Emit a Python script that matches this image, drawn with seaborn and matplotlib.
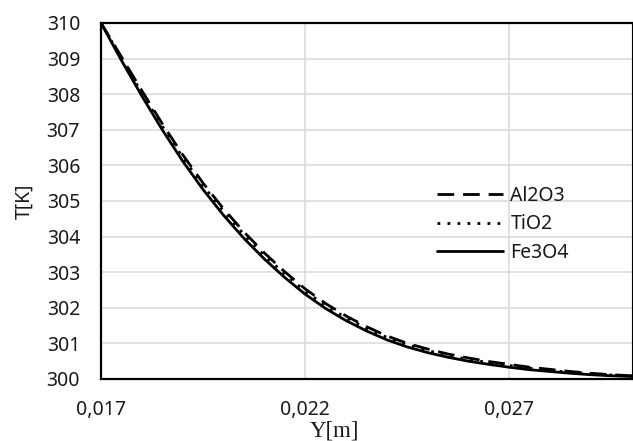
import matplotlib
matplotlib.use("Agg")
import matplotlib.pyplot as plt
import seaborn as sns
import pandas as pd
from matplotlib.ticker import FixedLocator

# ---- data ----
y_m = [0.0170, 0.0175, 0.0180, 0.0185, 0.0190, 0.0195, 0.0200, 0.0205, 0.0210,
       0.0215, 0.0220, 0.0225, 0.0230, 0.0235, 0.0240, 0.0245, 0.0250, 0.0255,
       0.0260, 0.0265, 0.0270, 0.0275, 0.0280, 0.0285, 0.0290, 0.0295, 0.0300]

t_al2o3 = [310.00, 309.05, 308.10, 307.17, 306.30, 305.50, 304.78, 304.13, 303.54,
           303.01, 302.53, 302.12, 301.77, 301.47, 301.21, 301.00, 300.84, 300.70,
           300.59, 300.49, 300.41, 300.33, 300.27, 300.21, 300.16, 300.12, 300.09]

t_tio2 = [310.00, 309.01, 308.04, 307.10, 306.23, 305.43, 304.71, 304.06, 303.47,
          302.95, 302.47, 302.06, 301.72, 301.42, 301.17, 300.96, 300.80, 300.66,
          300.55, 300.46, 300.38, 300.30, 300.24, 300.19, 300.14, 300.11, 300.08]

t_fe3o4 = [310.00, 308.95, 307.95, 307.00, 306.12, 305.32, 304.60, 303.95, 303.37,
           302.85, 302.38, 301.98, 301.64, 301.35, 301.10, 300.90, 300.74, 300.61,
           300.50, 300.41, 300.33, 300.26, 300.21, 300.16, 300.12, 300.09, 300.07]

series_names = ["Al2O3", "TiO2", "Fe3O4"]
x_ticks = [0.017, 0.022, 0.027]
x_tick_labels = ["0,017", "0,022", "0,027"]
y_ticks = list(range(300, 311))

sns.set_theme(style="white")
plt.rcParams["font.family"] = ["Noto Sans", "DejaVu Sans"]

fig = plt.figure(figsize=(6.33, 4.41), dpi=100)
ax = fig.add_axes([101 / 633, 1 - 379 / 441, 531 / 633, 356 / 441])

df_al = pd.DataFrame({"Y": y_m, "T": t_al2o3})
df_ti = pd.DataFrame({"Y": y_m, "T": t_tio2})
df_fe = pd.DataFrame({"Y": y_m, "T": t_fe3o4})

sns.lineplot(data=df_al, x="Y", y="T", ax=ax, color="black", lw=2.0,
             linestyle=(0, (6, 3.2)), label=series_names[0])
sns.lineplot(data=df_ti, x="Y", y="T", ax=ax, color="black", lw=2.0,
             linestyle=(0, (1, 2.6)), label=series_names[1])
sns.lineplot(data=df_fe, x="Y", y="T", ax=ax, color="black", lw=2.0,
             linestyle="-", label=series_names[2])

ax.set_xlim(0.017, 0.030)
ax.set_ylim(300, 310)
ax.xaxis.set_major_locator(FixedLocator(x_ticks))
ax.set_xticklabels(x_tick_labels)
ax.set_yticks(y_ticks)
ax.set_yticklabels([str(v) for v in y_ticks])

ax.grid(True, color="#d9d9d9", lw=1.1)
ax.set_axisbelow(True)

for side in ["left", "bottom"]:
    ax.spines[side].set_color("black")
    ax.spines[side].set_linewidth(1.6)
ax.spines["top"].set_color("black")
ax.spines["top"].set_linewidth(1.6)
ax.spines["right"].set_color("black")
ax.spines["right"].set_linewidth(0.8)

ax.tick_params(axis="both", which="major", direction="out", length=5, width=1.4,
               color="black", labelsize=14, labelcolor="#1a1a1a")
ax.tick_params(axis="y", pad=10)
ax.tick_params(axis="x", pad=10)

ax.set_xlabel("Y[m]", family="Liberation Serif", fontsize=16.5, color="#1a1a1a")
ax.xaxis.set_label_coords(0.44, -0.117)
ax.xaxis.label.set_va("top")
ax.set_ylabel("T[K]", fontsize=14, color="#1a1a1a")
ax.yaxis.set_label_coords(-0.125, 0.5)

leg = ax.legend(loc="center left", bbox_to_anchor=(0.632, 0.434), frameon=False,
                fontsize=14, handlelength=3.4, handletextpad=0.4,
                labelspacing=0.45, borderpad=0, borderaxespad=0)
for t in leg.get_texts():
    t.set_color("#1a1a1a")

fig.savefig("out.png", dpi=100)
